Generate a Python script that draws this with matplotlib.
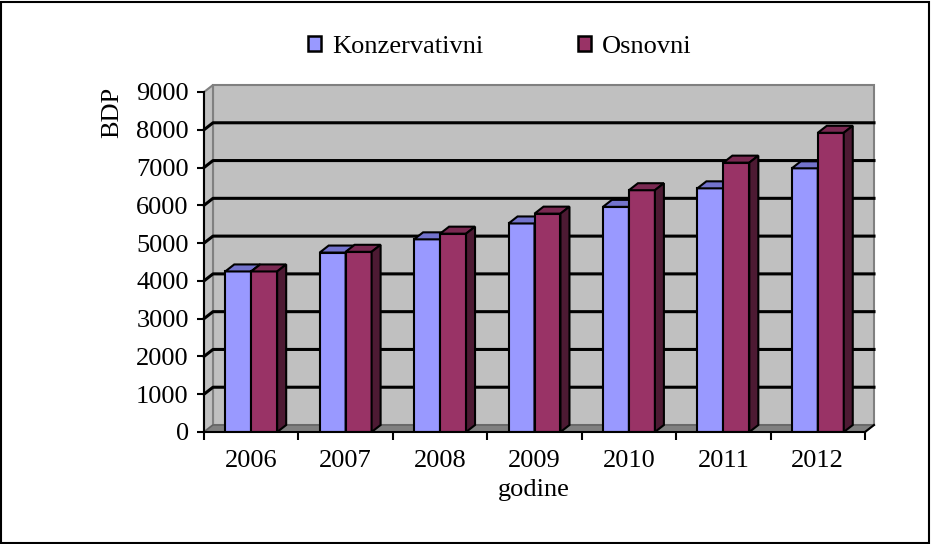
import numpy as np
import matplotlib.pyplot as plt
from matplotlib.patches import Polygon, Rectangle

# podaci
godine = ['2006', '2007', '2008', '2009', '2010', '2011', '2012']
konzervativni = [4250, 4750, 5100, 5520, 5960, 6450, 6980]
osnovni = [4250, 4770, 5250, 5780, 6400, 7130, 7920]

plt.rcParams['font.family'] = ['Liberation Serif', 'DejaVu Serif']
FS = 19

W, H = 931, 544
fig = plt.figure(figsize=(W / 100, H / 100), dpi=100)
# prednja ravnina osi (u pikselima: x 204..865, y 92..432)
ax = fig.add_axes([204 / W, 1 - 432 / H, 661 / W, 340 / H])
ax.set_xlim(-0.5, 6.5)
ax.set_ylim(0, 9000)
ax.patch.set_visible(False)

# dubina 3D efekta u jedinicama podataka
dx = 9 * 7 / 661
dy = 7 * 9000 / 340

x0, x1, ytop = -0.5, 6.5, 9000

# zadnji zid, lijevi zid i pod
zid = Polygon([(x0 + dx, dy), (x1 + dx, dy), (x1 + dx, ytop + dy), (x0 + dx, ytop + dy)],
              closed=True, facecolor='#c0c0c0', edgecolor='#808080', lw=1.5,
              clip_on=False, zorder=0)
lijevi = Polygon([(x0, 0), (x0 + dx, dy), (x0 + dx, ytop + dy), (x0, ytop)],
                 closed=True, facecolor='#c0c0c0', edgecolor='#808080', lw=1.5,
                 clip_on=False, zorder=0.5)
pod = Polygon([(x0, 0), (x1, 0), (x1 + dx, dy), (x0 + dx, dy)],
              closed=True, facecolor='#808080', edgecolor='#606060', lw=1,
              clip_on=False, zorder=0.5)
for p in (zid, lijevi, pod):
    ax.add_patch(p)
ax.plot([x1, x1 + dx], [0, dy], color='black', lw=1.5, clip_on=False, zorder=2)

# mreza
for yv in range(1000, 9000, 1000):
    ax.plot([x0, x0 + dx, x1 + dx], [yv, yv + dy, yv + dy], color='black',
            lw=2.2, clip_on=False, zorder=1)

# stupci
w = 0.275
xs = np.arange(len(godine))
serije = [
    (-w, konzervativni, '#9999ff', '#7373cc', '#4d4d80', 3),
    (0.0, osnovni, '#993366', '#7a2952', '#4d1a33', 4),
]
for off, vals, c_front, c_top, c_side, z in serije:
    ax.bar(xs + off, vals, width=w, align='edge', color=c_front,
           edgecolor='black', lw=1.5, zorder=z)
    for xi, v in zip(xs + off, vals):
        top = Polygon([(xi, v), (xi + w, v), (xi + w + dx, v + dy), (xi + dx, v + dy)],
                      closed=True, facecolor=c_top, edgecolor='black', lw=1.5,
                      zorder=z, clip_on=False)
        side = Polygon([(xi + w, 0), (xi + w + dx, dy), (xi + w + dx, v + dy), (xi + w, v)],
                       closed=True, facecolor=c_side, edgecolor='black', lw=1.5,
                       zorder=z, clip_on=False)
        ax.add_patch(top)
        ax.add_patch(side)

# osi
for s in ('top', 'right'):
    ax.spines[s].set_visible(False)
for s in ('left', 'bottom'):
    ax.spines[s].set_linewidth(1.5)
    ax.spines[s].set_zorder(6)

ax.set_yticks(range(0, 9001, 1000))
ax.tick_params(axis='y', direction='out', length=5, width=1.5, pad=6, labelsize=FS)
ax.set_xticks(np.arange(-0.5, 7, 1))
ax.set_xticklabels([])
ax.tick_params(axis='x', which='major', direction='out', length=6, width=1.5)
ax.set_xticks(xs, minor=True)
ax.set_xticklabels(godine, minor=True)
ax.tick_params(axis='x', which='minor', length=0, pad=13, labelsize=FS)

fig.text(112 / W, 1 - 112 / H, 'BDP', rotation=90, ha='center', va='center', fontsize=FS)
fig.text(534 / W, 1 - 490 / H, 'godine', ha='center', va='center', fontsize=FS)

# legenda
handles = [Rectangle((0, 0), 1, 1, facecolor='#9999ff', edgecolor='black', lw=1.8),
           Rectangle((0, 0), 1, 1, facecolor='#993366', edgecolor='black', lw=1.8)]
fig.legend(handles, ['Konzervativni', 'Osnovni'], loc='center',
           bbox_to_anchor=(500 / W, 1 - 47 / H), ncol=2, frameon=False, fontsize=FS,
           handlelength=0.48, handleheight=0.48, handletextpad=0.42, columnspacing=3.6)

# okvir slike
fig.patches.append(Rectangle((0.001, 0.002), 0.997, 0.995, transform=fig.transFigure,
                             fill=False, edgecolor='black', lw=1.5))

plt.savefig('out.png', dpi=100)
